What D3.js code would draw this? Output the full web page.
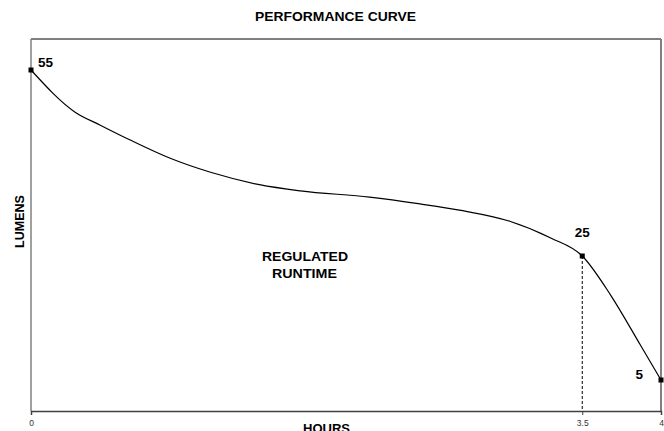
<!DOCTYPE html>
<html><head><meta charset="utf-8">
<script src="https://cdn.jsdelivr.net/npm/d3@7"></script>
<style>body{margin:0;background:#fff}svg{display:block;font-family:"Liberation Sans",Arial,sans-serif}</style>
</head><body><svg id="c" width="664" height="431"></svg>
<script>
const hours   = [0, 0.28, 0.44, 0.63, 0.88, 1.14, 1.45, 1.71, 2.15, 2.47, 2.72, 3.04, 3.30, 3.5, 3.68, 3.87, 4];
const lumens  = [55, 48.2, 46.1, 43.7, 40.8, 38.5, 36.5, 35.5, 34.5, 33.4, 32.4, 30.6, 27.9, 25, 18.7, 10.6, 5];
const markedHours  = [0, 3.5, 4];
const markedLumens = [55, 25, 5];
const xTicks = [0, 3.5, 4];

const svg = d3.select("#c");
const m = {l:31, r:661, t:39, b:411};
const x = d3.scaleLinear().domain([0,4]).range([m.l, m.r]);
const y = d3.scaleLinear().domain([0,60]).range([m.b, m.t]);

// frame
svg.append("line").attr("x1",m.l).attr("x2",m.r).attr("y1",m.t).attr("y2",m.t).attr("stroke","#000").attr("stroke-width",1);
svg.append("line").attr("x1",m.r).attr("x2",m.r).attr("y1",m.t).attr("y2",m.b).attr("stroke","#808080").attr("stroke-width",2);
svg.append("line").attr("x1",m.l).attr("x2",m.l).attr("y1",m.t).attr("y2",m.b).attr("stroke","#808080").attr("stroke-width",1.5);

// x axis
const xa = svg.append("g").attr("transform",`translate(0,${m.b})`)
  .call(d3.axisBottom(x).tickValues(xTicks).tickSize(4).tickFormat(d=>String(d)));
xa.select(".domain").attr("stroke","#404040").attr("stroke-width",1.5);
xa.selectAll(".tick line").attr("stroke","#404040");
xa.selectAll(".tick text").attr("font-size",8.5).attr("fill","#333").attr("font-family","Liberation Sans, Arial, sans-serif").attr("dy","0.9em");

// dashed drop line
svg.append("line").attr("x1",x(3.5)).attr("x2",x(3.5)).attr("y1",y(25)).attr("y2",m.b)
  .attr("stroke","#000").attr("stroke-dasharray","3,2").attr("stroke-width",1);

// curve
const pts = hours.map((h,i)=>[h,lumens[i]]);
svg.append("path").datum(pts)
  .attr("d", d3.line().x(d=>x(d[0])).y(d=>y(d[1])).curve(d3.curveMonotoneX))
  .attr("fill","none").attr("stroke","#000").attr("stroke-width",1.2);

// markers
svg.selectAll(".mk").data(markedHours).enter().append("rect")
  .attr("x",(d)=>x(d)-2.5).attr("y",(d,i)=>y(markedLumens[i])-2.5)
  .attr("width",5).attr("height",5).attr("fill","#000");

// value labels
const lblOff = [[7,-3,"start"],[0,-19,"middle"],[-18,-1,"end"]];
svg.selectAll(".vl").data(markedHours).enter().append("text")
  .attr("x",(d,i)=>x(d)+lblOff[i][0]).attr("y",(d,i)=>y(markedLumens[i])+lblOff[i][1])
  .attr("text-anchor",(d,i)=>lblOff[i][2])
  .attr("font-size",13.5).attr("font-weight","bold").text((d,i)=>markedLumens[i]);

// texts
function label(txt, cx, by, len, rot){
  const t = svg.append("text").attr("text-anchor","middle").attr("font-size",12.5).attr("font-weight","bold")
    .attr("textLength",len).attr("lengthAdjust","spacingAndGlyphs").text(txt);
  if(rot) t.attr("transform",`translate(${cx},${by}) rotate(-90)`);
  else t.attr("x",cx).attr("y",by);
}
label("PERFORMANCE CURVE", 335.5, 21, 161);
label("HOURS", 326.5, 432.5, 47);
label("LUMENS", 23.5, 221.5, 53, true);
label("REGULATED", 305, 261, 86);
label("RUNTIME", 304.5, 278, 65);
</script></body></html>
